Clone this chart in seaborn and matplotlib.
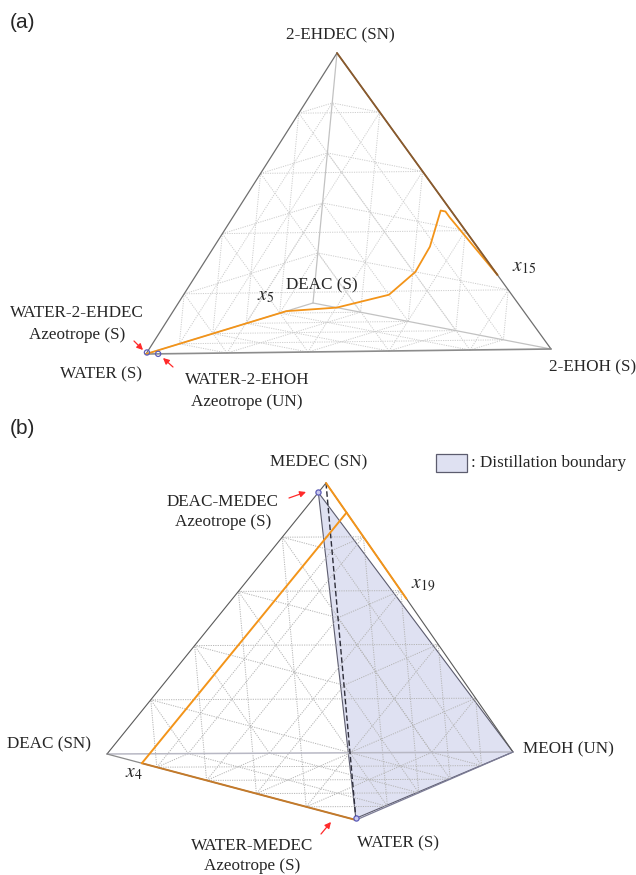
import numpy as np
import pandas as pd
import matplotlib
matplotlib.use('Agg')
import matplotlib.pyplot as plt
import seaborn as sns
from itertools import combinations
from matplotlib.patches import Polygon, Rectangle

sns.set_theme(style='white')
plt.rcParams['font.family'] = ['Liberation Serif', 'DejaVu Serif']
plt.rcParams['mathtext.fontset'] = 'stix'

# ---------------- data ----------------
# (a) mole fractions: WATER, 2-EHOH, 2-EHDEC, DEAC
comps_a = ['WATER', '2-EHOH', '2-EHDEC', 'DEAC']
prof_a_water = [1.00, 0.16, 0.00, 0.00, 0.00, 0.00, 0.00, 0.00, 0.00, 0.00, 0.00]
prof_a_ehoh = [0.00, 0.00, 0.10, 0.31, 0.41, 0.46, 0.48, 0.49, 0.51, 0.53, 0.75]
prof_a_ehdec = [0.00, 0.00, 0.00, 0.09, 0.20, 0.31, 0.41, 0.46, 0.46, 0.44, 0.25]
prof_a_deac = [0.00, 0.84, 0.90, 0.60, 0.39, 0.23, 0.11, 0.05, 0.03, 0.03, 0.00]
# upper section, runs on the 2-EHOH / 2-EHDEC edge
top_a_ehoh = [0.75, 0.00]
top_a_ehdec = [0.25, 1.00]
# azeotropes (a): WATER-2-EHDEC, WATER-2-EHOH
az_a_water = [0.995, 0.97]
az_a_ehoh = [0.0, 0.03]
az_a_ehdec = [0.005, 0.0]

# (b) mole fractions: WATER, MEOH, MEDEC, DEAC
comps_b = ['WATER', 'MEOH', 'MEDEC', 'DEAC']
low_b_water = [1.00, 0.14]          # WATER -> x4 along the edge
low_b_deac = [0.00, 0.86]
mid_b_water = [0.14, 0.00]          # x4 -> junction
mid_b_deac = [0.86, 0.00]
mid_b_medec = [0.00, 0.89]
mid_b_meoh = [0.00, 0.11]
top_b_medec = [1.00, 0.57]          # MEDEC -> x19
top_b_meoh = [0.00, 0.43]
# azeotropes (b): DEAC-MEDEC, WATER-MEDEC
az_b_deac = [0.035, 0.0]
az_b_medec = [0.965, 0.005]
az_b_water = [0.0, 0.995]
grid_levels = [0.2, 0.4, 0.6, 0.8]

# ---------------- layout (pixel projection of the pure components) ----------------
V_a = np.array([[146, 354], [551, 349], [337, 53], [313, 303]], float)
V_b = np.array([[356, 820], [513, 752], [326, 483], [107, 754]], float)


def to_xy(fracs, V):
    F = np.column_stack(fracs)
    return F @ V


def line(ax, fracs, V, **kw):
    xy = to_xy(fracs, V)
    df = pd.DataFrame({'x': xy[:, 0], 'y': xy[:, 1]})
    sns.lineplot(data=df, x='x', y='y', sort=False, estimator=None, ax=ax, **kw)


def zeros(n):
    return [0.0] * n


def face_grid(ax, V, color, lw):
    for face in combinations(range(4), 3):
        for i in face:
            j, k = [f for f in face if f != i]
            for c in grid_levels:
                p1 = c * V[i] + (1 - c) * V[j]
                p2 = c * V[i] + (1 - c) * V[k]
                ax.plot([p1[0], p2[0]], [p1[1], p2[1]], color=color, lw=lw,
                        ls=(0, (1.2, 1.2)), zorder=1)


def red_arrow(ax, tip, tail):
    ax.annotate('', xy=tip, xytext=tail,
                arrowprops=dict(arrowstyle='-|>', color='#ff2a2a', lw=0.9,
                                mutation_scale=9, shrinkA=0, shrinkB=0))


fig = plt.figure(figsize=(6.36, 8.75), dpi=100)
ax = fig.add_axes([0, 0, 1, 1])

# ================= (a) =================
face_grid(ax, V_a, '#cdcdcd', 0.7)
for i in range(3):
    ax.plot([V_a[3, 0], V_a[i, 0]], [V_a[3, 1], V_a[i, 1]], color='#c2c2c2', lw=0.9, zorder=2)
ax.plot(*V_a[[0, 2]].T, color='#6f6f6f', lw=0.9, zorder=3)
ax.plot(*V_a[[2, 1]].T, color='#6f6f6f', lw=0.9, zorder=3)
ax.plot(*V_a[[0, 1]].T, color='#8c8c8c', lw=1.2, zorder=3)

line(ax, [prof_a_water, prof_a_ehoh, prof_a_ehdec, prof_a_deac], V_a,
     color='#f39419', lw=1.3, zorder=5)
line(ax, [zeros(2), top_a_ehoh, top_a_ehdec, zeros(2)], V_a,
     color='#8a5a2c', lw=1.3, zorder=5)

xy = to_xy([az_a_water, az_a_ehoh, az_a_ehdec, zeros(2)], V_a)
sns.scatterplot(x=xy[:, 0], y=xy[:, 1], ax=ax, s=14, marker='o', facecolor='none',
                edgecolor='#5d5db8', linewidth=0.9, zorder=6)

red_arrow(ax, (143, 350), (134, 341))
red_arrow(ax, (163, 358), (173, 367))

fs = 12.3
ax.text(10, 22, '(a)', fontsize=15, family=['Liberation Sans', 'DejaVu Sans'], va='center')
ax.text(340, 35, '2-EHDEC (SN)', fontsize=fs, ha='center', va='center')
ax.text(322, 285, 'DEAC (S)', fontsize=fs, ha='center', va='center')
ax.text(266, 297, '$x_{5}$', fontsize=14, ha='center', va='center')
ax.text(524, 268, '$x_{15}$', fontsize=14, ha='center', va='center')
ax.text(77, 313, 'WATER-2-EHDEC', fontsize=fs, ha='center', va='center')
ax.text(77, 335, 'Azeotrope (S)', fontsize=fs, ha='center', va='center')
ax.text(101, 374, 'WATER (S)', fontsize=fs, ha='center', va='center')
ax.text(247, 380, 'WATER-2-EHOH', fontsize=fs, ha='center', va='center')
ax.text(247, 402, 'Azeotrope (UN)', fontsize=fs, ha='center', va='center')
ax.text(593, 367, '2-EHOH (S)', fontsize=fs, ha='center', va='center')

# ================= (b) =================
az_b = to_xy([az_b_water, zeros(2), az_b_medec, az_b_deac], V_b)
bnd = np.vstack([az_b[0], az_b[1], V_b[1]])
ax.add_patch(Polygon(bnd, closed=True, facecolor='#dfe1f2', edgecolor='#5c5c6e',
                     lw=0.8, zorder=0.5))
face_grid(ax, V_b, '#b4b4b4', 0.7)
ax.plot(*V_b[[3, 1]].T, color='#b8b8c4', lw=1.1, zorder=2)
ax.plot(*V_b[[3, 2]].T, color='#5a5a5a', lw=0.8, zorder=3)
ax.plot(*V_b[[2, 1]].T, color='#5a5a5a', lw=0.8, zorder=3)
ax.plot(*V_b[[3, 0]].T, color='#8a8a8a', lw=0.9, zorder=3)
ax.plot(*V_b[[0, 1]].T, color='#7c7c96', lw=0.9, zorder=3)
ax.plot(*V_b[[2, 0]].T, color='#2e2e3a', lw=1.0, ls=(0, (4, 2)), zorder=4)

line(ax, [low_b_water, zeros(2), zeros(2), low_b_deac], V_b, color='#c47a2a', lw=1.4, zorder=5)
line(ax, [mid_b_water, mid_b_meoh, mid_b_medec, mid_b_deac], V_b, color='#f39419', lw=1.4, zorder=5)
line(ax, [zeros(2), top_b_meoh, top_b_medec, zeros(2)], V_b, color='#f39419', lw=1.4, zorder=5)

sns.scatterplot(x=az_b[:, 0], y=az_b[:, 1], ax=ax, s=14, marker='o', facecolor='#c8c8f0',
                edgecolor='#5d5db8', linewidth=0.9, zorder=6)

red_arrow(ax, (306, 492), (289, 498))
red_arrow(ax, (331, 822), (321, 834))

ax.add_patch(Rectangle((436, 454), 31, 18, facecolor='#dfe1f2', edgecolor='#5c5c6e', lw=0.9))
ax.text(471, 463, ': Distillation boundary', fontsize=fs, ha='left', va='center')

ax.text(10, 428, '(b)', fontsize=15, family=['Liberation Sans', 'DejaVu Sans'], va='center')
ax.text(319, 462, 'MEDEC (SN)', fontsize=fs, ha='center', va='center')
ax.text(223, 502, 'DEAC-MEDEC', fontsize=fs, ha='center', va='center')
ax.text(223, 522, 'Azeotrope (S)', fontsize=fs, ha='center', va='center')
ax.text(423, 586, '$x_{19}$', fontsize=14, ha='center', va='center')
ax.text(49, 744, 'DEAC (SN)', fontsize=fs, ha='center', va='center')
ax.text(134, 773, '$x_{4}$', fontsize=14, ha='center', va='center')
ax.text(568, 749, 'MEOH (UN)', fontsize=fs, ha='center', va='center')
ax.text(398, 843, 'WATER (S)', fontsize=fs, ha='center', va='center')
ax.text(252, 846, 'WATER-MEDEC', fontsize=fs, ha='center', va='center')
ax.text(252, 866, 'Azeotrope (S)', fontsize=fs, ha='center', va='center')

ax.set_xlim(0, 636)
ax.set_ylim(875, 0)
ax.axis('off')
fig.savefig('out.png', dpi=100, facecolor='white')
